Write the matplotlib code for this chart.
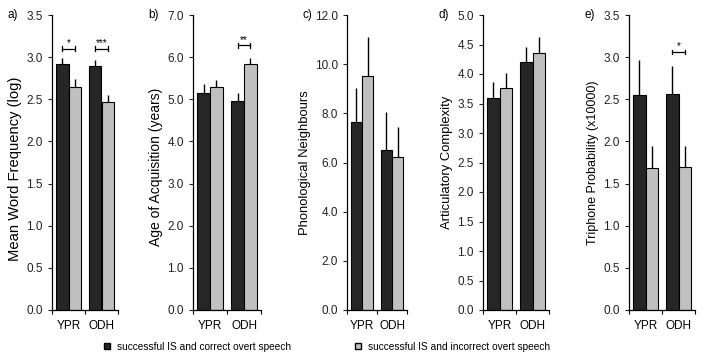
import matplotlib
matplotlib.use("Agg")
import matplotlib.pyplot as plt
from matplotlib.lines import Line2D
import numpy as np

plt.rcParams['font.family'] = ['Liberation Sans', 'DejaVu Sans']

groups = ["YPR", "ODH"]
panel_tags = ["a)", "b)", "c)", "d)", "e)"]
ylabels = ["Mean Word Frequency (log)", "Age of Acquisition (years)",
           "Phonological Neighbours", "Articulatory Complexity",
           "Triphone Probability (x10000)"]
ymax = [3.5, 7.0, 12.0, 5.0, 3.5]
ystep = [0.5, 1.0, 2.0, 0.5, 0.5]

# correct overt speech (dark) / incorrect overt speech (grey), per group YPR, ODH
correct_mean = [[2.92, 2.90], [5.16, 4.96], [7.63, 6.52], [3.60, 4.21], [2.55, 2.56]]
correct_err = [[0.07, 0.07], [0.21, 0.20], [1.40, 1.53], [0.26, 0.25], [0.42, 0.33]]
incorrect_mean = [[2.65, 2.47], [5.29, 5.83], [9.52, 6.24], [3.76, 4.35], [1.68, 1.70]]
incorrect_err = [[0.09, 0.08], [0.17, 0.16], [1.58, 1.19], [0.25, 0.27], [0.26, 0.24]]

# significance brackets: (panel, group, height, stars)
sig = [(0, 0, 3.10, "*"), (0, 1, 3.10, "***"), (1, 1, 6.28, "**"), (4, 1, 3.06, "*")]

dark = "#262626"
grey = "#c0c0c0"

fig = plt.figure(figsize=(7.05, 3.62), dpi=100)
lefts = [52, 193, 347, 483, 629]
widths = [66, 68, 60, 66, 66]
label_sizes = [10.6, 10, 9.4, 9.4, 9]
label_y = [0.478, 0.485, 0.5, 0.5, 0.5]
axes = []
for i in range(5):
    ax = fig.add_axes([lefts[i] / 705, 52 / 362, widths[i] / 705, 295 / 362])
    axes.append(ax)
    x = np.arange(len(groups))
    w = 0.37
    ax.bar(x - w / 2, correct_mean[i], w, color=dark, edgecolor="black", linewidth=0.8,
           yerr=[np.zeros(2), correct_err[i]], error_kw=dict(ecolor="black", elinewidth=1.0, capsize=0))
    ax.bar(x + w / 2, incorrect_mean[i], w, color=grey, edgecolor="black", linewidth=0.8,
           yerr=[np.zeros(2), incorrect_err[i]], error_kw=dict(ecolor="black", elinewidth=1.0, capsize=0))
    ax.set_xlim(-0.5, 1.5)
    ax.set_ylim(0, ymax[i])
    ticks = np.arange(0, ymax[i] + 1e-9, ystep[i])
    ax.set_yticks(ticks)
    ax.set_yticklabels(["%.1f" % v for v in ticks])
    ax.set_xticks(x)
    ax.set_xticklabels(groups)
    ax.set_xticks([-0.5, 0.5, 1.5], minor=True)
    ax.tick_params(axis="x", which="major", length=0, labelsize=8.5, pad=7)
    ax.tick_params(axis="x", which="minor", length=3, width=0.8, direction="out")
    ax.tick_params(axis="y", length=3, width=0.8, labelsize=8.5, colors="#222222")
    for s in ["top", "right"]:
        ax.spines[s].set_visible(False)
    ax.spines["left"].set_linewidth(0.9)
    ax.spines["bottom"].set_linewidth(0.9)
    ax.set_ylabel(ylabels[i], fontsize=label_sizes[i], labelpad=3)
    ax.yaxis.label.set_y(label_y[i])
    ax.annotate(panel_tags[i], xy=(0, 1), xycoords="axes fraction", xytext=(-32, 0),
                textcoords="offset points", fontsize=8.5, va="center", ha="left")

for p, g, h, stars in sig:
    ax = axes[p]
    xl, xr = g - 0.185, g + 0.185
    d = ymax[p] * 0.008
    ax.plot([xl, xr], [h, h], color="black", lw=0.9)
    ax.plot([xl, xl], [h - d, h + d], color="black", lw=0.9)
    ax.plot([xr, xr], [h - d, h + d], color="black", lw=0.9)
    ax.text(g, h + ymax[p] * 0.002, stars, ha="center", va="bottom", fontsize=7)

handles = [Line2D([], [], marker="s", ls="none", color=dark, markeredgecolor="black", markersize=4),
           Line2D([], [], marker="s", ls="none", color=grey, markeredgecolor="black", markersize=4)]
fig.legend(handles, ["successful IS and correct overt speech", "successful IS and incorrect overt speech"],
           loc="center left", bbox_to_anchor=(96 / 705, 1 - 347 / 362), ncol=2, frameon=False,
           fontsize=7.3, handletextpad=0.6, columnspacing=6.2, handlelength=0.8, borderpad=0.2)

fig.savefig("out.png", dpi=100)
